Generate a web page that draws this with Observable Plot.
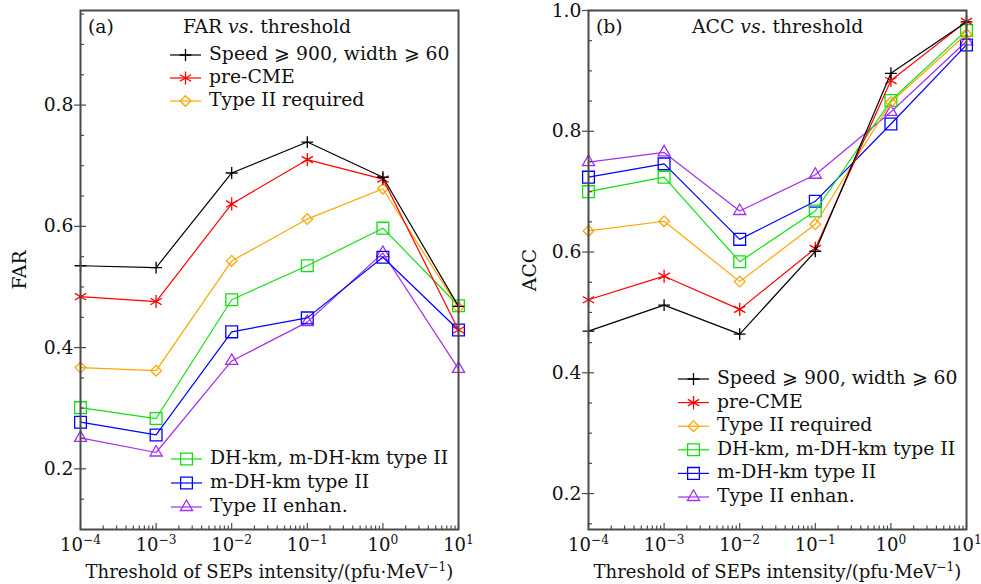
<!DOCTYPE html>
<html><head><meta charset="utf-8">
<script src="https://cdn.jsdelivr.net/npm/d3@7"></script>
<script src="https://cdn.jsdelivr.net/npm/@observablehq/plot@0.6"></script>
<style>
body{margin:0;background:#fff;}
#wrap{position:relative;width:981px;height:584px;overflow:hidden;}
#wrap svg{position:absolute;top:0;overflow:visible;}
</style></head><body><div id="wrap"></div>
<script>
// ---------- data ----------
const thresholds = [1e-4, 1e-3, 1e-2, 1e-1, 1, 10];
const seriesNames = ["Speed ⩾ 900, width ⩾ 60", "pre-CME", "Type II required", "DH-km, m-DH-km type II", "m-DH-km type II", "Type II enhan."];
const farSpeed  = [0.535, 0.532, 0.688, 0.739, 0.681, 0.468];
const farPreCME = [0.484, 0.476, 0.637, 0.710, 0.678, 0.429];
const farTypeII = [0.367, 0.362, 0.543, 0.612, 0.662, 0.466];
const farDHkm   = [0.301, 0.283, 0.479, 0.535, 0.597, 0.469];
const farMDHkm  = [0.277, 0.256, 0.426, 0.449, 0.549, 0.429];
const farEnhan  = [0.251, 0.227, 0.378, 0.442, 0.556, 0.365];
const accSpeed  = [0.469, 0.512, 0.464, 0.601, 0.896, 0.981];
const accPreCME = [0.521, 0.560, 0.505, 0.606, 0.884, 0.982];
const accTypeII = [0.635, 0.651, 0.551, 0.646, 0.848, 0.961];
const accDHkm   = [0.700, 0.724, 0.584, 0.668, 0.851, 0.967];
const accMDHkm  = [0.724, 0.746, 0.621, 0.684, 0.812, 0.943];
const accEnhan  = [0.749, 0.765, 0.668, 0.728, 0.832, 0.949];
const xTickExponents = [-4, -3, -2, -1, 0, 1];
const yMajorTicks = [0.2, 0.4, 0.6, 0.8, 1.0];
const yMinorTicks = [0.15, 0.25, 0.3, 0.35, 0.45, 0.5, 0.55, 0.65, 0.7, 0.75, 0.85, 0.9, 0.95];
const xMinorMultipliers = [2, 3, 4, 5, 6, 7, 8, 9];

// ---------- styles ----------
const colors = ["#000000", "#ff0000", "#ffa500", "#10e010", "#0000ff", "#a030f0"];
const symbolNames = ["plus", "asterisk", "diamond2", "square2", "square2", "triangle2"];
const symbolObjs = [d3.symbolPlus, d3.symbolAsterisk, d3.symbolDiamond2, d3.symbolSquare2, d3.symbolSquare2, d3.symbolTriangle2];
const symbolR = [3.9, 6.2, 4.8, 7.5, 7.5, 5.8];
const FONT = "DejaVu Serif";
const FS = 18.8;
const AXIS = "#4a4a4a";

const xMinor = [];
for (let e = -4; e < 1; e++) for (const m of xMinorMultipliers) xMinor.push(m * Math.pow(10, e));
const expOf = d => xTickExponents[thresholds.findIndex(t => Math.abs(Math.log10(t) - Math.log10(d)) < 1e-6)];

function supify(svg) {
  d3.select(svg).selectAll("text, tspan").each(function () {
    if (this.childNodes.length !== 1 || this.firstChild.nodeType !== 3) return;
    const s = this.textContent;
    if (!s.includes("^{")) return;
    const parts = s.split(/(\^\{[^}]*\})/);
    this.textContent = "";
    for (const p of parts) {
      if (!p) continue;
      const m = p.match(/^\^\{(.*)\}$/);
      if (m) {
        const t = document.createElementNS("http://www.w3.org/2000/svg", "tspan");
        t.setAttribute("baseline-shift", "super");
        t.setAttribute("font-size", "0.68em");
        t.textContent = m[1];
        this.appendChild(t);
      } else this.appendChild(document.createTextNode(p));
    }
  });
}

function makePanel(cfg) {
  const marks = [];
  for (let i = cfg.series.length - 1; i >= 0; i--) {
    const data = thresholds.map((t, j) => ({x: t, y: cfg.series[i][j]}));
    marks.push(Plot.line(data, {x: "x", y: "y", stroke: colors[i], strokeWidth: 1.2}));
    marks.push(Plot.dot(data, {x: "x", y: "y", symbol: symbolNames[i], r: symbolR[i], stroke: colors[i], fill: "none", strokeWidth: 1.3}));
  }
  const yT = yMajorTicks.filter(v => v >= cfg.yDomain[0] && v <= cfg.yDomain[1] + 1e-9);
  const yM = yMinorTicks.filter(v => v >= cfg.yDomain[0] && v <= cfg.yDomain[1]);
  const plot = Plot.plot({
    width: cfg.width, height: 584,
    marginLeft: cfg.marginLeft, marginRight: cfg.marginRight, marginTop: 10, marginBottom: 55,
    style: {fontFamily: FONT, fontSize: FS + "px", color: "#111", background: "white", overflow: "visible"},
    x: {type: "log", domain: [1e-4, 10]},
    y: {domain: cfg.yDomain},
    marks: [
      ...marks,
      Plot.axisY(yT, {tickSize: 0, tickPadding: 7, tickFormat: d3.format(".1f"), fontSize: FS,
        label: cfg.yLabel, labelAnchor: "center", labelOffset: cfg.labelOffset, labelArrow: "none"}),
      Plot.axisY(yT, {tickSize: 12, dx: 6, tickFormat: () => "", label: null, stroke: AXIS, strokeWidth: 1.2}),
      Plot.axisY(yM, {tickSize: -4, tickFormat: () => "", label: null, stroke: AXIS, strokeWidth: 1.2}),
      Plot.axisX(thresholds, {tickSize: 0, tickPadding: 9, fontSize: 18,
        tickFormat: d => `10^{${String(expOf(d)).replace("-", "−")}}`,
        label: "Threshold of SEPs intensity/(pfu·MeV^{−1})", labelAnchor: "center", labelOffset: 48, labelArrow: "none"}),
      Plot.axisX(thresholds, {tickSize: -6, tickFormat: () => "", label: null, stroke: AXIS, strokeWidth: 1.2}),
      Plot.axisX(xMinor, {tickSize: -3.5, tickFormat: () => "", label: null, stroke: AXIS, strokeWidth: 1.2}),
      Plot.frame({stroke: AXIS, strokeWidth: 2})
    ]
  });
  const svg = plot.tagName.toLowerCase() === "svg" ? plot : plot.querySelector("svg");
  supify(svg);
  const g = d3.select(svg).append("g").attr("font-family", FONT).attr("font-size", FS)
    .attr("fill", "#111").attr("text-anchor", "start");
  // panel tag and title
  g.append("text").attr("x", cfg.tagX).attr("y", 28).attr("dominant-baseline", "middle").text(cfg.tag);
  const ttl = g.append("text").attr("x", cfg.titleX).attr("y", 28).attr("dominant-baseline", "middle");
  ttl.append("tspan").text(cfg.titleWord + " ");
  ttl.append("tspan").attr("font-style", "italic").text("vs");
  ttl.append("tspan").text(". threshold");
  // legends
  for (const lg of cfg.legends) {
    lg.items.forEach((idx, k) => {
      const y = lg.y0 + k * lg.dy;
      g.append("line").attr("x1", lg.x).attr("x2", lg.x + 31).attr("y1", y).attr("y2", y)
        .attr("stroke", colors[idx]).attr("stroke-width", 1.2);
      g.append("path").attr("d", d3.symbol(symbolObjs[idx], Math.PI * symbolR[idx] * symbolR[idx])())
        .attr("transform", `translate(${lg.x + 15.5},${y})`)
        .attr("fill", "none").attr("stroke", colors[idx]).attr("stroke-width", 1.3);
      g.append("text").attr("x", lg.x + 39).attr("y", y).attr("dominant-baseline", "middle").text(seriesNames[idx]);
    });
  }
  svg.style.left = cfg.left + "px";
  return svg;
}

const wrap = document.getElementById("wrap");
wrap.appendChild(makePanel({
  left: 0, width: 490, marginLeft: 80, marginRight: 32,
  yDomain: [0.1, 0.956], yLabel: "FAR", labelOffset: 68,
  series: [farSpeed, farPreCME, farTypeII, farDHkm, farMDHkm, farEnhan],
  tag: "(a)", tagX: 88, titleWord: "FAR", titleX: 183,
  legends: [{x: 170, y0: 55, dy: 23, items: [0, 1, 2]}, {x: 171, y0: 459, dy: 24, items: [3, 4, 5]}]
}));
wrap.appendChild(makePanel({
  left: 490, width: 491, marginLeft: 98, marginRight: 15,
  yDomain: [0.1405, 1.0], yLabel: "ACC", labelOffset: 66,
  series: [accSpeed, accPreCME, accTypeII, accDHkm, accMDHkm, accEnhan],
  tag: "(b)", tagX: 106, titleWord: "ACC", titleX: 202,
  legends: [{x: 188, y0: 379, dy: 23.6, items: [0, 1, 2, 3, 4, 5]}]
}));
</script></body></html>
